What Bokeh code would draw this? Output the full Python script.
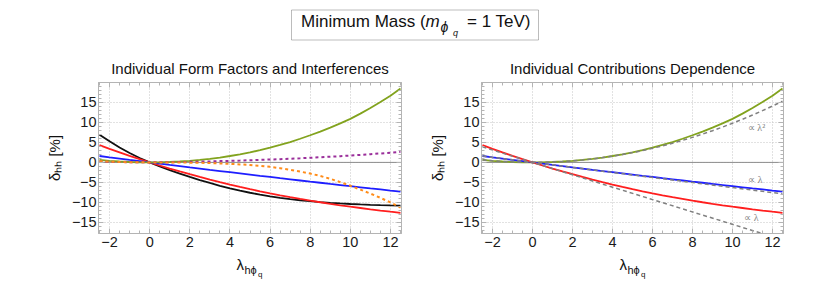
import math
from bokeh.plotting import figure
from bokeh.models import (Range1d, FixedTicker, LinearAxis, Span, Label,
                          BoxAnnotation, ColumnDataSource)
from bokeh.layouts import column, row
from bokeh.embed import file_html
from bokeh.resources import INLINE

# ---------------- data ----------------
lam = [-2.5, -2.0, -1.5, -1.0, -0.5, 0.0, 0.5, 1.0, 1.5, 2.0, 2.5, 3.0, 3.5, 4.0,
       4.5, 5.0, 5.5, 6.0, 6.5, 7.0, 7.5, 8.0, 8.5, 9.0, 9.5, 10.0, 10.5, 11.0,
       11.5, 12.0, 12.5]

green = [0.62, 0.40, 0.22, 0.10, 0.025, 0.0, 0.025, 0.10, 0.22, 0.40, 0.62, 0.90,
         1.22, 1.60, 2.03, 2.50, 3.07, 3.70, 4.38, 5.10, 5.92, 6.80, 7.72, 8.70,
         9.77, 10.90, 12.20, 13.60, 15.10, 16.70, 18.50]
red = [4.30, 3.38, 2.50, 1.63, 0.80, 0.0, -0.78, -1.54, -2.26, -2.96, -3.64, -4.30,
       -4.93, -5.55, -6.13, -6.70, -7.23, -7.75, -8.23, -8.70, -9.14, -9.57, -9.98,
       -10.37, -10.74, -11.09, -11.42, -11.75, -12.06, -12.35, -12.63]
blue = [1.60, 1.27, 0.95, 0.63, 0.32, 0.0, -0.31, -0.63, -0.94, -1.25, -1.55, -1.86,
        -2.16, -2.46, -2.76, -3.06, -3.36, -3.65, -3.95, -4.24, -4.53, -4.82, -5.10,
        -5.39, -5.67, -5.95, -6.23, -6.51, -6.78, -7.06, -7.33]
black = [6.95, 5.30, 3.75, 2.35, 1.10, 0.0, -1.00, -1.95, -2.83, -3.65, -4.42, -5.15,
         -5.85, -6.50, -7.08, -7.60, -8.07, -8.50, -8.87, -9.20, -9.48, -9.72, -9.93,
         -10.12, -10.28, -10.42, -10.53, -10.63, -10.71, -10.78, -10.83]
orange = [0.30, 0.18, 0.09, 0.04, 0.01, 0.0, 0.0, -0.01, -0.03, -0.06, -0.10, -0.16,
          -0.25, -0.37, -0.50, -0.64, -0.85, -1.12, -1.45, -1.85, -2.30, -2.80, -3.40,
          -4.10, -4.95, -5.85, -6.82, -7.82, -8.88, -10.02, -11.30]
purple = [0.22, 0.15, 0.09, 0.05, 0.02, 0.0, 0.02, 0.05, 0.10, 0.14, 0.20, 0.25,
          0.32, 0.39, 0.46, 0.54, 0.63, 0.72, 0.81, 0.92, 1.03, 1.16, 1.29, 1.42,
          1.56, 1.72, 1.88, 2.06, 2.24, 2.44, 2.66]
quad_approx = [0.61, 0.39, 0.22, 0.10, 0.02, 0.0, 0.02, 0.10, 0.22, 0.39, 0.61, 0.88,
               1.20, 1.57, 1.98, 2.45, 2.96, 3.53, 4.14, 4.80, 5.51, 6.27, 7.08, 7.94,
               8.84, 9.80, 10.80, 11.86, 12.96, 14.11, 15.31]
lin_lam = [-2.5, 0.0, 12.5]
lin_blue = [1.58, 0.0, -7.88]
lin_red = [3.88, 0.0, -19.38]

x_ticks = [-2, 0, 2, 4, 6, 8, 10, 12]
x_tick_labels = ["\u22122", "0", "2", "4", "6", "8", "10", "12"]
y_ticks = [-15, -10, -5, 0, 5, 10, 15]
y_tick_labels = ["\u221215", "\u221210", "\u22125", "0", "5", "10", "15"]

left_title = "Individual Form Factors and Interferences"
right_title = "Individual Contributions Dependence"
y_label = "\u03b4\u2095\u2095 [%]"
approx_texts = ["\u221d \u03bb\u00b2", "\u221d \u03bb", "\u221d \u03bb"]

# ---------------- style ----------------
FONT = "Liberation Sans"
TXT = "#111111"
FRAME = "#b4b4b4"
GRID = "#c4c4c4"
C_GREEN = "#82a31e"
C_RED = "#ff1e1e"
C_BLUE = "#1e1eff"
C_BLACK = "#111111"
C_PURPLE = "#9a2e9a"
C_ORANGE = "#ff8c1a"
C_DASH = "#808080"
LW = 1.8

src = ColumnDataSource(dict(lam=lam, green=green, red=red, blue=blue, black=black,
                            orange=orange, purple=purple, quad=quad_approx))
lin_src = ColumnDataSource(dict(lam=lin_lam, blue=lin_blue, red=lin_red))

x_minor = [-2.5 + 0.5 * i for i in range(31)]
y_minor = [-17 + i for i in range(38)]


def text_fig(x0, x1, y0, y1):
    """Blank figure whose data coordinates equal page pixel coordinates."""
    f = figure(width=x1 - x0, height=y1 - y0, x_range=Range1d(x0, x1),
               y_range=Range1d(y1, y0), min_border=0, toolbar_location=None,
               output_backend="svg", x_axis_location=None, y_axis_location=None)
    f.xgrid.visible = False
    f.ygrid.visible = False
    f.outline_line_color = None
    f.background_fill_color = "white"
    f.border_fill_color = "white"
    return f


def lab(f, x, y, text, size, **kw):
    kw.setdefault("text_font", FONT)
    kw.setdefault("text_color", TXT)
    f.add_layout(Label(x=x, y=y, text=text, text_font_size=size, **kw))


def make_panel(width, bl, br):
    p = figure(width=width, height=177, x_range=Range1d(-2.55, 12.55),
               y_range=Range1d(-17.8, 20), min_border_left=bl, min_border_right=br,
               min_border_top=2, min_border_bottom=24, toolbar_location=None,
               output_backend="svg", x_axis_location=None, y_axis_location=None)
    p.outline_line_color = FRAME
    p.background_fill_color = "white"
    p.border_fill_color = "white"
    for g, t in ((p.xgrid[0], x_ticks), (p.ygrid[0], y_ticks)):
        g.ticker = FixedTicker(ticks=t)
        g.grid_line_color = GRID
        g.grid_line_dash = "1 2"
        g.grid_line_width = 1
    for loc in ("below", "above", "left", "right"):
        if loc in ("below", "above"):
            ticker = FixedTicker(ticks=x_ticks, minor_ticks=x_minor)
            labels = dict(zip(x_ticks, x_tick_labels))
        else:
            ticker = FixedTicker(ticks=y_ticks, minor_ticks=y_minor)
            labels = dict(zip(y_ticks, y_tick_labels))
        ax = LinearAxis(ticker=ticker)
        ax.axis_line_color = FRAME
        ax.major_tick_line_color = FRAME
        ax.minor_tick_line_color = FRAME
        ax.major_tick_in = 5
        ax.major_tick_out = 0
        ax.minor_tick_in = 3
        ax.minor_tick_out = 0
        if loc in ("below", "left"):
            ax.major_label_overrides = labels
            ax.major_label_text_font = FONT
            ax.major_label_text_font_size = "14.5px"
            ax.major_label_text_color = "#1a1a1a"
            ax.major_label_standoff = 3 if loc == "below" else 2
        else:
            ax.major_label_overrides = {k: "" for k in labels}
            ax.major_label_text_font_size = "0px"
            ax.major_label_standoff = 0
        if loc == "left":
            ax.axis_label = y_label
            ax.axis_label_text_font = FONT
            ax.axis_label_text_font_size = "15px"
            ax.axis_label_text_font_style = "normal"
            ax.axis_label_text_color = TXT
            ax.axis_label_standoff = 6
        p.add_layout(ax, loc)
    p.add_layout(Span(location=0, dimension="width", line_color="#8c8c8c",
                      line_width=1, level="underlay"))
    return p


def xlabel_fig(x0, x1, start_x):
    f = text_fig(x0, x1, 257, 285)
    lab(f, start_x, 272.0, "\u03bb", "15px")
    lab(f, start_x + 8, 275.5, "h\u03d5", "11px")
    lab(f, start_x + 21.5, 278.5, "q", "8px")
    return f


# ---------------- left panel (page x 0..410) ----------------
p1 = make_panel(410, 98, 9)
p1.line("lam", "black", source=src, line_color=C_BLACK, line_width=LW)
p1.line("lam", "red", source=src, line_color=C_RED, line_width=LW)
p1.line("lam", "blue", source=src, line_color=C_BLUE, line_width=LW)
p1.line("lam", "green", source=src, line_color=C_GREEN, line_width=LW)
p1.line("lam", "purple", source=src, line_color=C_PURPLE, line_width=2, line_dash="3 3")
p1.line("lam", "orange", source=src, line_color=C_ORANGE, line_width=2, line_dash="3 3")

sub1 = text_fig(0, 410, 50, 80)
lab(sub1, 249.5, 76, left_title, "15px", text_align="center")
# plots wrapped in a row so the column does not align their frames
left_panel = column(row(sub1), row(p1), row(xlabel_fig(0, 410, 236)))

# ---------------- right panel (page x 410..830) ----------------
p2 = make_panel(420, 71, 47)
p2.line("lam", "green", source=src, line_color=C_GREEN, line_width=LW)
p2.line("lam", "blue", source=src, line_color=C_BLUE, line_width=LW)
p2.line("lam", "red", source=src, line_color=C_RED, line_width=LW)
p2.line("lam", "quad", source=src, line_color=C_DASH, line_width=1.5, line_dash="4 3")
p2.line("lam", "blue", source=lin_src, line_color=C_DASH, line_width=1.5, line_dash="4 3")
p2.line("lam", "red", source=lin_src, line_color=C_DASH, line_width=1.5, line_dash="4 3")
for txt, (ax_, ay_) in zip(approx_texts, [(11.2, 8.8), (11.15, -4.3), (10.95, -13.7)]):
    p2.add_layout(Label(x=ax_, y=ay_, text=txt, text_align="center", text_baseline="middle",
                        text_font="Liberation Serif", text_font_size="10px",
                        text_color="#808080"))

sub2 = text_fig(410, 830, 50, 80)
lab(sub2, 632, 76, right_title, "15px", text_align="center")
right_panel = column(row(sub2), row(p2), row(xlabel_fig(410, 830, 619)))

# ---------------- main title ----------------
t = text_fig(0, 830, 0, 50)
t.add_layout(BoxAnnotation(left=291, right=538, top=9.5, bottom=39.5, fill_alpha=0,
                           line_color="#222222", line_width=1))
lab(t, 300.5, 30.7, "Minimum Mass (", "17px")
lab(t, 425, 30.7, "m", "17px", text_font_style="italic")
lab(t, 440, 34.5, "\u03d5", "14px", text_font_style="italic")
lab(t, 452.5, 37.5, "q", "9px", text_font_style="italic")
lab(t, 466.5, 30.7, "= 1 TeV)", "17px")

layout = column(t, row(left_panel, right_panel))
open("out.html", "w").write(file_html(layout, INLINE))
